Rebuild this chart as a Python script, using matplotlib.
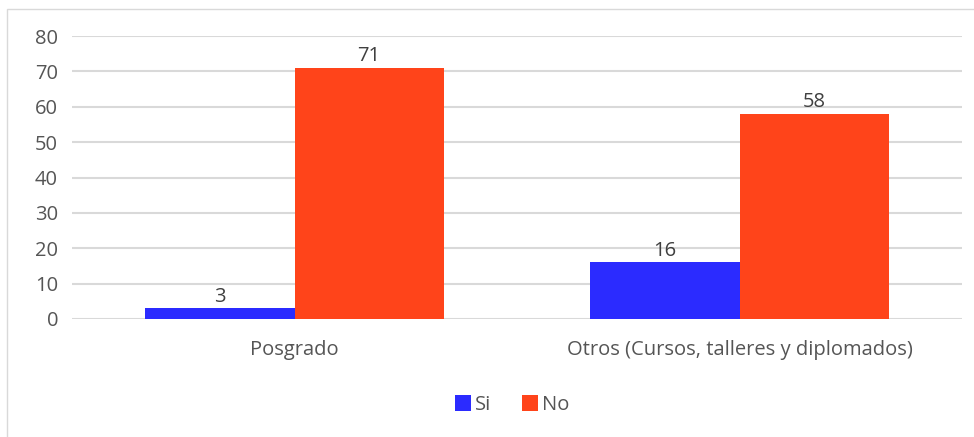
import matplotlib
matplotlib.use("Agg")
import matplotlib.pyplot as plt
import numpy as np
from matplotlib.patches import Rectangle

categories = ["Posgrado", "Otros (Cursos, talleres y diplomados)"]
series_names = ["Si", "No"]
si_values = [3, 16]
no_values = [71, 58]
yticks = [0, 10, 20, 30, 40, 50, 60, 70, 80]

plt.rcParams['font.family'] = ['Open Sans', 'DejaVu Sans']
text_color = "#555555"
colors = ["#2B2BFF", "#FF441A"]

fig = plt.figure(figsize=(9.74, 4.37), dpi=100)
fig.patches.append(Rectangle((7/974, -0.05), (1000)/974, 1 - 9/437 + 0.05, transform=fig.transFigure,
                             fill=False, edgecolor="#D9D9D9", linewidth=1))
ax = fig.add_axes([72/974, 1 - 319/437, (962 - 72)/974, (319 - 36)/437])

x = np.arange(len(categories))
w = 0.335
b1 = ax.bar(x - w/2, si_values, w, color=colors[0], label=series_names[0], zorder=3)
b2 = ax.bar(x + w/2, no_values, w, color=colors[1], label=series_names[1], zorder=3)
for bars in (b1, b2):
    for r in bars:
        ax.annotate(f"{int(r.get_height())}", (r.get_x() + r.get_width()/2, r.get_height()),
                    xytext=(0, 1), textcoords="offset points", ha="center", va="bottom",
                    fontsize=14.5, color="#404040")

ax.set_xlim(-0.5, 1.5)
ax.set_ylim(0, 80)
ax.set_yticks(yticks)
ax.set_xticks(x)
ax.set_xticklabels(categories)
ax.tick_params(axis="both", length=0, labelsize=14.5, colors=text_color)
ax.tick_params(axis="y", pad=10)
ax.tick_params(axis="x", pad=15)
ax.grid(axis="y", color="#D9D9D9", linewidth=1.5, zorder=0)
for s in ax.spines.values():
    s.set_visible(False)

leg = fig.legend(handles=[b1, b2], labels=series_names, loc="center", bbox_to_anchor=(512/974, 1 - 405/437),
                 ncol=2, frameon=False, fontsize=14.5, handlelength=0.8, handleheight=0.8,
                 handletextpad=0.2, columnspacing=1.5, labelcolor=text_color)

fig.savefig("out.png", dpi=100)
